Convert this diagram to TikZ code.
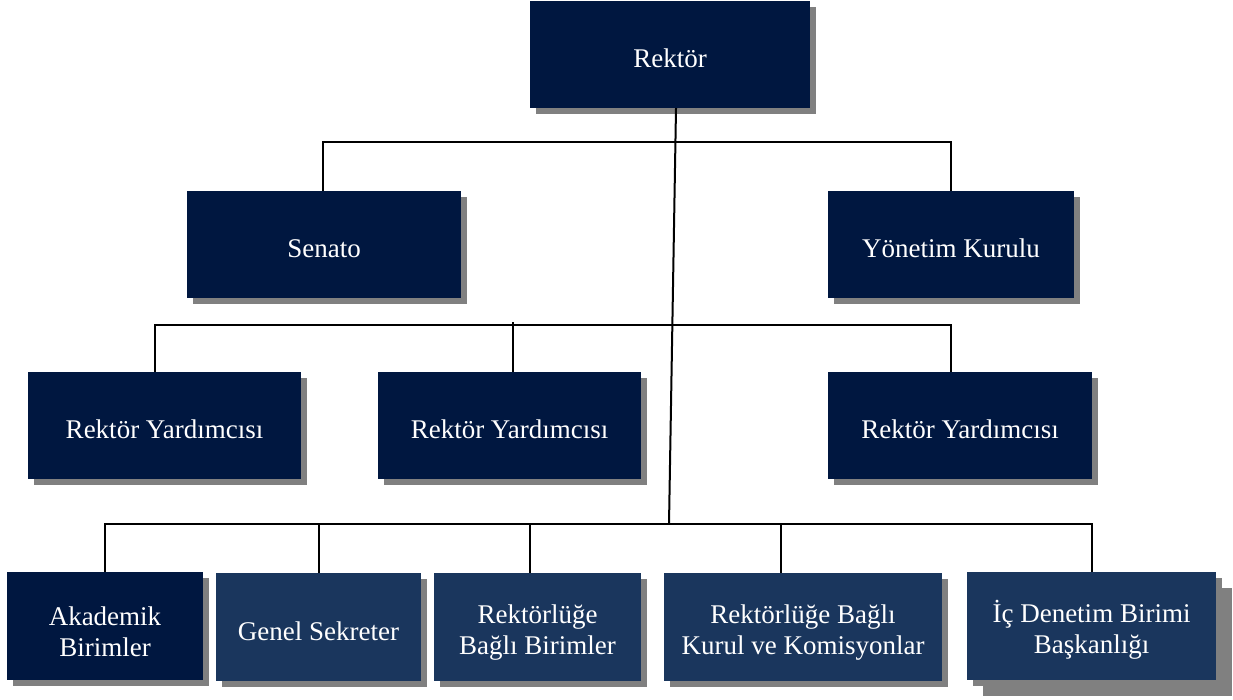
\documentclass[tikz,border=0pt]{standalone}
\usepackage{fontspec}
\setmainfont{Liberation Serif}
\usepackage{tikz}
\usetikzlibrary{calc}
\usetikzlibrary{shadows}

\definecolor{navy}{RGB}{0,23,64}
\definecolor{steel}{RGB}{26,54,93}
\definecolor{shade}{RGB}{128,128,128}

\tikzset{
  unit/.style={rectangle, fill=navy, text=white, align=center,
    minimum height=107pt, inner sep=2pt,
    font=\fontsize{27}{31}\selectfont,
    execute at begin node={\rule{0pt}{27pt}},
    drop shadow={shadow xshift=6pt, shadow yshift=-6pt, fill=shade, opacity=1}},
  subunit/.style={unit, fill=steel},
  twoline/.style={minimum height=108pt, execute at begin node={\rule{0pt}{61pt}}},
  bus/.style={draw=black, line width=2pt}
}

\begin{document}
\begin{tikzpicture}[x=1pt, y=-1pt]
  \useasboundingbox (0,0) rectangle (1233,699);

  \node[unit, minimum width=280pt] (rektor) at (670,54.5) {Rektör};
  \node[unit, minimum width=274pt] (senato) at (324,244.5) {Senato};
  \node[unit, minimum width=246pt] (yk) at (951,244.5) {Yönetim Kurulu};

  \node[unit, minimum width=273pt] (ry1) at (164.5,425.5) {Rektör Yardımcısı};
  \node[unit, minimum width=263pt] (ry2) at (509.5,425.5) {Rektör Yardımcısı};
  \node[unit, minimum width=264pt] (ry3) at (960,425.5) {Rektör Yardımcısı};

  \node[unit, twoline, minimum width=196pt] (akd) at (105,626) {Akademik\\Birimler};
  \node[subunit, minimum width=205pt, minimum height=108pt] (gs) at (318.5,627) {Genel Sekreter};
  \node[subunit, twoline, minimum width=207pt] (rbb) at (537.5,627) {Rektörlüğe\\Bağlı Birimler};
  \node[subunit, twoline, minimum width=278pt] (rbk) at (803,627) {Rektörlüğe Bağlı\\Kurul ve Komisyonlar};
  \node[subunit, twoline, minimum width=249pt,
    drop shadow={shadow xshift=16pt, shadow yshift=-16pt, fill=shade, opacity=1}] (icd) at (1091.5,626) {İç Denetim Birimi\\Başkanlığı};

  % rektor to bottom bus
  \coordinate (low) at (669,524);
  \path[bus] ([xshift=6pt]rektor.south) -- (low);

  % senato / yonetim kurulu
  \path[bus] ([xshift=-1pt]senato.north) -- ++(0,-49) -| (yk.north);

  % rektor yardimcilari
  \path[bus] ([xshift=-9.5pt]ry1.north) -- ++(0,-47) -| ([xshift=-9pt]ry3.north);
  \path[bus] ([xshift=3.5pt]ry2.north) -- ++(0,-50);

  % bagli birimler
  \path[bus] (akd.north) -- ++(0,-48) -| ([xshift=0.5pt]icd.north);
  \path[bus] (gs.north) -- ++(0,-49);
  \path[bus] ([xshift=-7.5pt]rbb.north) -- ++(0,-49);
  \path[bus] ([xshift=-22pt]rbk.north) -- ++(0,-49);
\end{tikzpicture}
\end{document}
